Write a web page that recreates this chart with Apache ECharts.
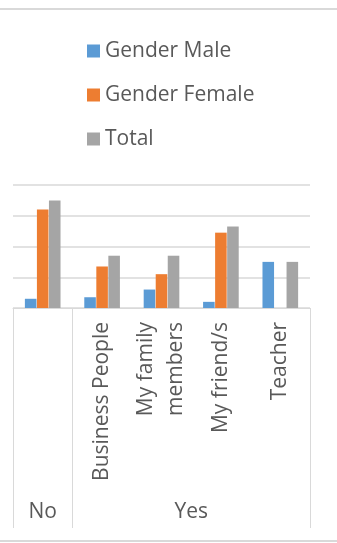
<!DOCTYPE html>
<html>
<head>
<meta charset="utf-8">
<script src="https://cdn.jsdelivr.net/npm/echarts@6/dist/echarts.min.js"></script>
<style>
  html, body { margin: 0; padding: 0; background: #fff; }
  #chart { width: 337px; height: 543px; }
</style>
</head>
<body>
<div id="chart"></div>
<script>
// Sub-category labels (first level of the axis); "No" has no sub-category
const categories = ['', 'Business People', 'My family\nmembers', 'My friend/s', 'Teacher'];
// Group labels (second level of the axis) and the positions they span, in category units
const groupLabels = ['No', 'Yes'];
const groupCenters = [0.5, 3];
// Index of the first category in each group (used for the separator lines)
const groupStarts = [0, 1];

const seriesNames = ['Gender Male', 'Gender Female', 'Total'];
const maleValues = [6, 7, 12, 4, 30];
const femaleValues = [64, 27, 22, 49, 0];
const totalValues = [70, 34, 34, 53, 30];

const colors = ['#5B9BD5', '#ED7D31', '#A5A5A5'];
const fontFamily = '"Open Sans", "Noto Sans", sans-serif';
const textColor = '#595959';
const lineColor = '#D9D9D9';
const fontSize = 21;

const chart = echarts.init(document.getElementById('chart'));

chart.setOption({
  animation: false,
  color: colors,
  textStyle: { fontFamily: fontFamily },
  graphic: [{
    type: 'rect',
    shape: { x: -4, y: 9, width: 345, height: 532 },
    style: { fill: 'none', stroke: lineColor, lineWidth: 2 },
    silent: true
  }],
  legend: {
    orient: 'vertical',
    left: 82,
    top: 35,
    icon: 'rect',
    itemWidth: 13,
    itemHeight: 13,
    itemGap: 22,
    textStyle: { color: textColor, fontSize: fontSize, lineHeight: 22, fontFamily: fontFamily },
    data: seriesNames
  },
  grid: { left: 13, right: 27, top: 185, bottom: 235, containLabel: false },
  xAxis: [{
    type: 'category',
    data: categories,
    axisLine: { show: true, lineStyle: { color: lineColor, width: 1 } },
    axisTick: {
      show: true,
      length: 220,
      inside: false,
      interval: function (index) { return groupStarts.indexOf(index) !== -1; },
      lineStyle: { color: lineColor, width: 1 }
    },
    axisLabel: {
      interval: 0,
      rotate: 90,
      margin: 14,
      color: textColor,
      fontSize: fontSize,
      lineHeight: 30,
      fontFamily: fontFamily
    }
  }, {
    type: 'value',
    position: 'bottom',
    min: 0,
    max: categories.length,
    interval: 0.5,
    offset: 186,
    axisLine: { show: false },
    axisTick: { show: false },
    splitLine: { show: false },
    axisLabel: {
      margin: 8,
      color: textColor,
      fontSize: fontSize,
      fontFamily: fontFamily,
      showMinLabel: true,
      showMaxLabel: true,
      formatter: function (v) {
        const i = groupCenters.indexOf(v);
        return i === -1 ? '' : groupLabels[i];
      }
    }
  }],
  yAxis: {
    type: 'value',
    min: 0,
    max: 80,
    interval: 20,
    axisLine: { show: false },
    axisTick: { show: false },
    axisLabel: { show: false },
    splitLine: { lineStyle: { color: lineColor, width: 1.5 } }
  },
  series: [
    { name: seriesNames[0], type: 'bar', xAxisIndex: 0, data: maleValues, barGap: '4%', barCategoryGap: '40%' },
    { name: seriesNames[1], type: 'bar', xAxisIndex: 0, data: femaleValues, barGap: '4%', barCategoryGap: '40%' },
    { name: seriesNames[2], type: 'bar', xAxisIndex: 0, data: totalValues, barGap: '4%', barCategoryGap: '40%' }
  ]
});
</script>
</body>
</html>
